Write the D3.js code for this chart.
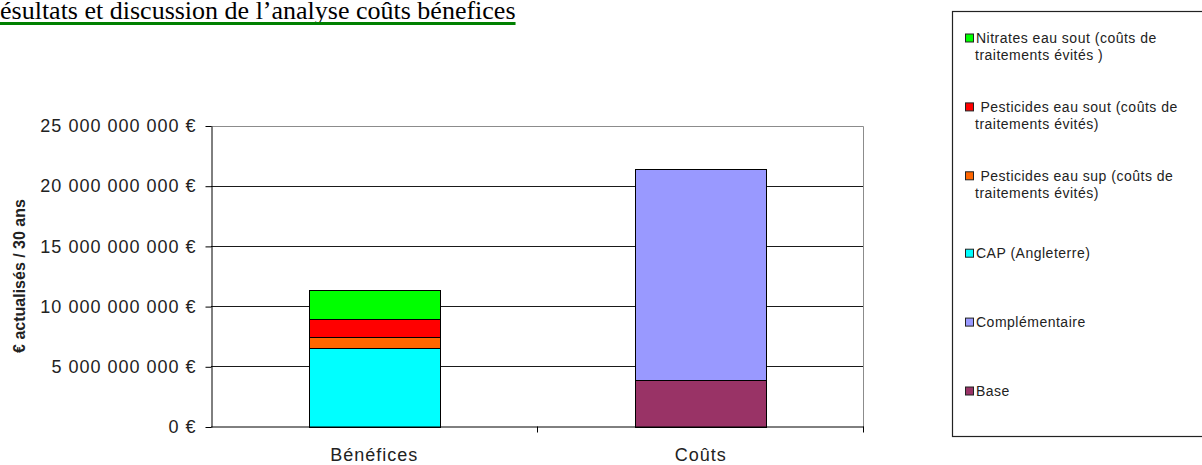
<!DOCTYPE html>
<html>
<head>
<meta charset="utf-8">
<script src="https://cdn.jsdelivr.net/npm/d3@7"></script>
<style>
  html, body { margin: 0; padding: 0; background: #fff; }
  svg { display: block; }
</style>
</head>
<body>
<svg id="chart" width="1202" height="465"></svg>
<script>
// ---- data ----
const categories = ["Bénéfices", "Coûts"];
const seriesNames = [
  "Base",
  "Complémentaire",
  "CAP (Angleterre)",
  "Pesticides eau sup (coûts de traitements évités)",
  "Pesticides eau sout (coûts de traitements évités)",
  "Nitrates eau sout (coûts de traitements évités )"
];
const baseValues           = [0, 3.9e9];
const complementaireValues = [0, 17.5e9];
const capValues            = [6.53e9, 0];
const pestSupValues        = [0.89e9, 0];
const pestSoutValues       = [1.53e9, 0];
const nitratesValues       = [2.38e9, 0];
const seriesColors = ["#993366", "#9999FF", "#00FFFF", "#FF6600", "#FF0000", "#00FF00"];
const legendLines = [
  ["Base"],
  ["Complémentaire"],
  ["CAP (Angleterre)"],
  ["\u00a0Pesticides eau sup (coûts de", "traitements évités)"],
  ["\u00a0Pesticides eau sout (coûts de", "traitements évités)"],
  ["Nitrates eau sout (coûts de", "traitements évités )"]
];
const yTickValues = [0, 5e9, 10e9, 15e9, 20e9, 25e9];
const titleText = "ésultats et discussion de l\u2019analyse coûts bénefices";
const yAxisTitle = "€ actualisés / 30 ans";

// ---- build table ----
const seriesValues = [baseValues, complementaireValues, capValues, pestSupValues, pestSoutValues, nitratesValues];
const table = categories.map((c, i) => {
  const row = { category: c };
  seriesNames.forEach((s, j) => row[s] = seriesValues[j][i]);
  return row;
});

const svg = d3.select("#chart");
const pLeft = 211, pRight = 864, pTop = 125.5, pBottom = 426.5;

const x = d3.scaleBand().domain(categories).range([pLeft, pRight]).paddingInner(0.6).paddingOuter(0.3);
const y = d3.scaleLinear().domain([0, 25e9]).range([pBottom, pTop]);
const color = d3.scaleOrdinal().domain(seriesNames).range(seriesColors);

const fmt = v => d3.format(",")(v).replace(/,/g, " ") + " €";

// title
const title = svg.append("text")
  .attr("x", 0).attr("y", 19)
  .style("font-family", "'Liberation Serif', 'Times New Roman', serif")
  .style("font-size", "26px")
  .attr("fill", "#000")
  .text(titleText);
const tw = title.node().getComputedTextLength();
svg.append("rect").attr("x", 0).attr("y", 22).attr("width", tw).attr("height", 3).attr("fill", "#008000");

// gridlines
svg.append("g").selectAll("line")
  .data(yTickValues.filter(v => v > 0 && v < 25e9))
  .join("line")
  .attr("x1", pLeft).attr("x2", pRight)
  .attr("y1", d => Math.round(y(d)) + 0.5).attr("y2", d => Math.round(y(d)) + 0.5)
  .attr("stroke", "#1a1a1a").attr("stroke-width", 1);

// plot border (top & right)
svg.append("path")
  .attr("d", `M${pLeft},${Math.round(pTop)+0.5}H${pRight - 0.5}V${pBottom}`)
  .attr("fill", "none").attr("stroke", "#8c8c8c").attr("stroke-width", 1);

// bars
const stack = d3.stack().keys(seriesNames);
const stacked = stack(table);
svg.append("g").selectAll("g")
  .data(stacked)
  .join("g")
  .attr("fill", d => color(d.key))
  .selectAll("rect")
  .data(d => d.filter(p => p[1] - p[0] > 0))
  .join("rect")
  .attr("x", d => Math.round(x(d.data.category)) + 0.5)
  .attr("width", Math.round(x.bandwidth()))
  .attr("y", d => Math.round(y(d[1])) + 0.5)
  .attr("height", d => Math.round(y(d[0])) - Math.round(y(d[1])))
  .attr("stroke", "#000").attr("stroke-width", 1);

// y axis
const yAxis = svg.append("g")
  .attr("transform", `translate(${pLeft + 0.5},0.5)`)
  .call(d3.axisLeft(y).tickValues(yTickValues).tickFormat(fmt).tickSize(6).tickPadding(9).tickSizeOuter(0));
yAxis.select(".domain").attr("stroke", "#000");
yAxis.selectAll(".tick line").attr("stroke", "#000");
yAxis.selectAll("text")
  .style("font-family", "'Liberation Sans', Arial, sans-serif")
  .style("font-size", "18px")
  .style("letter-spacing", "1px")
  .attr("fill", "#222");

// x axis
const xAxis = svg.append("g")
  .attr("transform", `translate(0,${pBottom})`)
  .call(d3.axisBottom(x).tickSize(0).tickPadding(22));
xAxis.select(".domain").attr("stroke", "#000").attr("d", `M${pLeft},0.5H${pRight}`);
xAxis.selectAll("text")
  .style("font-family", "'Liberation Sans', Arial, sans-serif")
  .style("font-size", "18px")
  .style("letter-spacing", "1px")
  .attr("fill", "#222");
// boundary ticks between categories
const bounds = categories.map(c => x(c) + x.bandwidth() + x.step() * x.paddingInner() / 2);
bounds[bounds.length - 1] = pRight;
xAxis.append("g").selectAll("line")
  .data(bounds)
  .join("line")
  .attr("x1", d => Math.round(d) - 0.5).attr("x2", d => Math.round(d) - 0.5)
  .attr("y1", 0).attr("y2", 6)
  .attr("stroke", "#000");

// y axis title
svg.append("text")
  .attr("transform", "translate(19,276) rotate(-90)")
  .attr("text-anchor", "middle")
  .attr("dominant-baseline", "central")
  .style("font-family", "'Liberation Sans', Arial, sans-serif")
  .style("font-size", "16px")
  .style("font-weight", "bold")
  .attr("fill", "#222")
  .text(yAxisTitle);

// legend
const legend = svg.append("g");
legend.append("rect")
  .attr("x", 952.5).attr("y", 11.5).attr("width", 270).attr("height", 425)
  .attr("fill", "#fff").attr("stroke", "#222").attr("stroke-width", 1.2);
const ly = d3.scalePoint().domain(seriesNames.slice().reverse()).range([46.5, 391]);
const lineH = 17;
const items = legend.selectAll("g.item")
  .data(seriesNames.map((s, i) => ({ key: s, lines: legendLines[i] })))
  .join("g").attr("class", "item");
items.append("rect")
  .attr("x", 965.5)
  .attr("y", d => ly(d.key) - (d.lines.length - 1) * lineH / 2 - 4)
  .attr("width", 8).attr("height", 8)
  .attr("fill", d => color(d.key))
  .attr("stroke", "#222").attr("stroke-width", 1);
items.each(function(d) {
  const g = d3.select(this);
  const y0 = ly(d.key) - (d.lines.length - 1) * lineH / 2;
  d.lines.forEach((t, k) => {
    g.append("text")
      .attr("x", k === 0 ? 976 : 975)
      .attr("y", y0 + k * lineH)
      .attr("dominant-baseline", "central")
      .style("font-family", "'Liberation Sans', Arial, sans-serif")
      .style("font-size", "14px")
      .style("letter-spacing", "0.5px")
      .attr("fill", "#222")
      .text(t);
  });
});
</script>
</body>
</html>
